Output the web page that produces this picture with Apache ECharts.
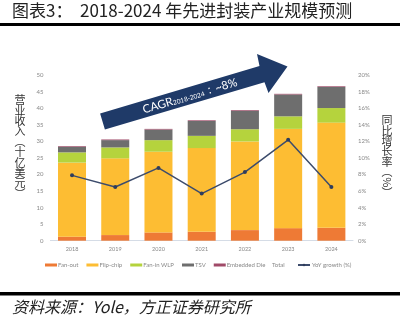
<!DOCTYPE html>
<html><head><meta charset="utf-8">
<script src="https://cdn.jsdelivr.net/npm/echarts@6/dist/echarts.min.js"></script>
<style>html,body{margin:0;padding:0;background:#fff}#c{width:402px;height:321px}</style>
</head><body><div id="c"></div>
<script>
var years = ['2018','2019','2020','2021','2022','2023','2024'];
var fanOut = [1.2, 1.7, 2.5, 2.7, 3.2, 3.8, 3.9];
var flipChip = [22.4, 23.2, 24.4, 25.3, 26.8, 30.0, 31.8];
var fanInWLP = [3.1, 3.3, 3.5, 3.7, 3.7, 3.8, 4.4];
var tsv = [1.7, 2.2, 3.2, 4.5, 5.6, 6.6, 6.4];
var embeddedDie = [0.2, 0.2, 0.2, 0.2, 0.2, 0.2, 0.2];
var yoyGrowth = [7.9, 6.5, 8.8, 5.7, 8.3, 12.2, 6.5];
var leftTicks = {min:0, max:50, interval:5};
var rightTicks = {min:0, max:20, interval:2};
var leftName = ['营','业','收','入','︵','十','亿','美','元','︶'];
var rightName = ['同','比','增','长','率','︵','%','︶'];

var chart = echarts.init(document.getElementById('c'));
var cjk = '"Noto Sans CJK SC", sans-serif';
function bar(name, data, color){
  return {name:name, type:'bar', stack:'a', data:data, barWidth:28,
    itemStyle:{color:color}, emphasis:{disabled:true}};
}
var aw = [[100.1,113.4],[259.5,66.0],[257,54.0],[287.5,66.6],[268.5,93.0],[264.5,82.3],[104.9,129.6]];
var graphics = [
  {type:'text', left:12, top:2, style:{text:'图表3：', font:'17px '+cjk, fill:'#222'}},
  {type:'text', left:80, top:2, style:{text:'2018-2024 年先进封装产业规模预测', font:'17px '+cjk, fill:'#222'}},
  {type:'rect', shape:{x:0, y:23, width:400, height:3}, style:{fill:'#000'}},
  {type:'rect', shape:{x:0, y:292, width:400, height:3.5}, style:{fill:'#000'}},
  {type:'text', left:12, top:299, style:{text:'资料来源：Yole，方正证券研究所', font:'italic 16px '+cjk, fill:'#222'}},
  {type:'text', x:272, y:265, style:{text:'Total', font:'6px Lato, sans-serif', fill:'#888', textVerticalAlign:'middle'}},
  {type:'polygon', shape:{points:aw}, style:{fill:'#1f3a68'}},
  {type:'text', x:190, y:96, rotation:0.29,
   style:{text:'{a|CAGR}{b|2018-2024}{a|：~8%}', textAlign:'center', textVerticalAlign:'middle', fill:'#fff',
     rich:{a:{fontSize:11.5, fill:'#fff', fontFamily:'Lato, sans-serif'}, b:{fontSize:6.5, fill:'#fff', fontFamily:'Lato, sans-serif', padding:[4,0,0,0]}}}}
];
leftName.forEach(function(ch, i){
  graphics.push({type:'text', x:20, y:100 + i*10.4, style:{text:ch, font:'11px '+cjk, fill:'#333', textAlign:'center', textVerticalAlign:'middle'}});
});
rightName.forEach(function(ch, i){
  graphics.push({type:'text', x:387, y:120 + i*10.4, rotation:(ch==='%'?-Math.PI/2:0), style:{text:ch, font:'11px '+cjk, fill:'#333', textAlign:'center', textVerticalAlign:'middle'}});
});
chart.setOption({
  animation:false,
  grid:{left:50.4, right:49, top:75.3, bottom:80.3},
  legend:[
    {left:40, top:257, itemWidth:12, itemHeight:3, itemGap:8,
      textStyle:{fontSize:6, color:'#888', fontFamily:'Lato, sans-serif', padding:[0,0,0,-4]},
      data:['Fan-out','Flip-chip','Fan-in WLP','TSV','Embedded Die'].map(function(n){return {name:n, icon:'rect'};})},
    {left:292, top:257, itemWidth:12, itemHeight:3,
      textStyle:{fontSize:6, color:'#888', fontFamily:'Lato, sans-serif', padding:[0,0,0,-3]},
      data:['YoY growth (%)']}
  ],
  xAxis:{type:'category', data:years,
    axisLine:{lineStyle:{color:'#d5dce6', width:1}}, axisTick:{show:false},
    axisLabel:{fontSize:5.5, color:'#888', margin:6, fontFamily:'Lato, sans-serif'}},
  yAxis:[
    {type:'value', min:leftTicks.min, max:leftTicks.max, interval:leftTicks.interval,
     splitLine:{show:false}, axisLine:{show:false}, axisTick:{show:false},
     axisLabel:{fontSize:6, color:'#888', margin:7, fontFamily:'Lato, sans-serif'}},
    {type:'value', min:rightTicks.min, max:rightTicks.max, interval:rightTicks.interval,
     splitLine:{show:false}, axisLine:{show:false}, axisTick:{show:false},
     axisLabel:{fontSize:6, color:'#888', margin:5, formatter:'{value}%', fontFamily:'Lato, sans-serif'}}
  ],
  series:[
    bar('Fan-out', fanOut, '#ee7a35'),
    bar('Flip-chip', flipChip, '#fdbd33'),
    bar('Fan-in WLP', fanInWLP, '#b5d33d'),
    bar('TSV', tsv, '#6e6e6e'),
    bar('Embedded Die', embeddedDie, '#a04a68'),
    {name:'YoY growth (%)', type:'line', yAxisIndex:1, data:yoyGrowth,
     symbol:'circle', symbolSize:4, itemStyle:{color:'#2f3d5c'},
     lineStyle:{color:'#3d4c6c', width:1.5}, emphasis:{disabled:true}}
  ],
  graphic:graphics
});
</script></body></html>
